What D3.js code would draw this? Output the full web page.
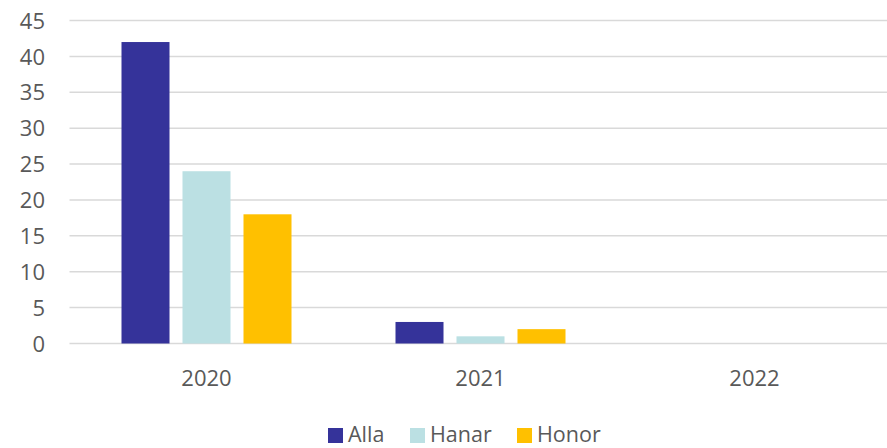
<!DOCTYPE html>
<html><head><meta charset="utf-8">
<script src="https://cdn.jsdelivr.net/npm/d3@7"></script>
<style>body{margin:0;background:#fff;}svg{display:block;font-family:"Open Sans",sans-serif;}</style>
</head><body><svg id="c" width="887" height="448"></svg>
<script>
const categories = ["2020", "2021", "2022"];
const seriesNames = ["Alla", "Hanar", "Honor"];
const alla = [42, 3, 0];
const hanar = [24, 1, 0];
const honor = [18, 2, 0];
const yTicks = [0, 5, 10, 15, 20, 25, 30, 35, 40, 45];
const colors = ["#35339a", "#bbe0e3", "#ffc000"];

(function () {
const values = [alla, hanar, honor];
const svg = d3.select("#c");
const mLeft = 69.5, mRight = 891.5, mTop = 20.5, mBottom = 343.5;

const x0 = d3.scaleBand().domain(categories).range([mLeft, mRight]).padding(0);
const bw = x0.bandwidth();
const gw = 170, off = (bw - gw) / 2;
const x1 = d3.scaleBand().domain(seriesNames).range([off, off + gw]).paddingInner(0.213).paddingOuter(0);
const y = d3.scaleLinear().domain([0, 45]).range([mBottom, mTop]);

svg.append("g").selectAll("line").data(yTicks).join("line")
  .attr("x1", mLeft).attr("x2", 887)
  .attr("y1", d => y(d)).attr("y2", d => y(d))
  .attr("stroke", "#d9d9d9").attr("stroke-width", 1.5);

const yAxis = d3.axisLeft(y).tickValues(yTicks).tickSize(0).tickPadding(0);
const ya = svg.append("g").attr("transform", `translate(45,0)`).call(yAxis);
ya.select(".domain").remove();
ya.selectAll("text").attr("font-size", 22).attr("fill", "#595959").attr("font-family", "Open Sans").attr("dy", "0.35em");

seriesNames.forEach((s, si) => {
  svg.append("g").selectAll("rect").data(categories).join("rect")
    .attr("x", c => x0(c) + x1(s))
    .attr("width", x1.bandwidth())
    .attr("y", (c, i) => y(values[si][i]))
    .attr("height", (c, i) => y(0) - y(values[si][i]))
    .attr("fill", colors[si]);
});

const xAxis = d3.axisBottom(x0).tickSize(0).tickPadding(0);
const xa = svg.append("g").attr("transform", `translate(0,${mBottom})`).call(xAxis);
xa.select(".domain").remove();
xa.selectAll("text").attr("font-size", 22).attr("fill", "#595959").attr("font-family", "Open Sans")
  .attr("dy", null).attr("y", 42);

const legX = [328, 410, 517];
const lg = svg.append("g");
seriesNames.forEach((s, i) => {
  lg.append("rect").attr("x", legX[i]).attr("y", 428).attr("width", 15).attr("height", 15).attr("fill", colors[i]);
  lg.append("text").attr("x", legX[i] + 20).attr("y", 442).attr("font-size", 21.5).attr("fill", "#595959").text(s);
});
})();
</script></body></html>
